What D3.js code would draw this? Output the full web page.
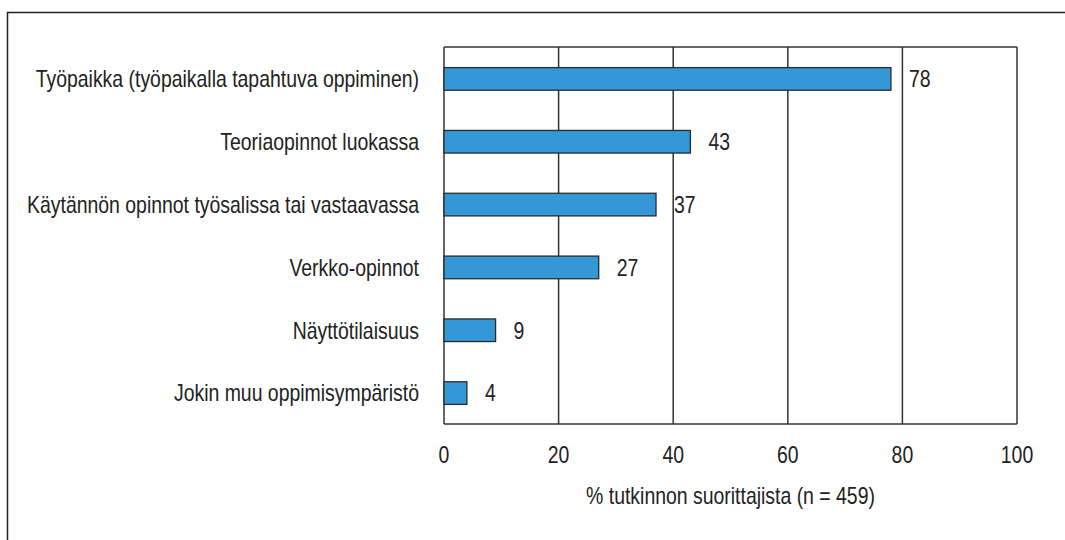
<!DOCTYPE html>
<meta charset="utf-8">
<style>
body { margin: 0; background: #fff; }
text {
  font-family: "Liberation Sans", Arial, sans-serif;
  font-size: 23px;
  fill: #222;
}
.grid line { stroke: #333; stroke-width: 1.5; }
.bar { fill: #3398d5; stroke: #2b2b2b; stroke-width: 1.3; }
</style>
<body>
<div id="chart"></div>
<script src="https://cdn.jsdelivr.net/npm/d3@7"></script>
<script>

var categories = [
  "Työpaikka (työpaikalla tapahtuva oppiminen)",
  "Teoriaopinnot luokassa",
  "Käytännön opinnot työsalissa tai vastaavassa",
  "Verkko-opinnot",
  "Näyttötilaisuus",
  "Jokin muu oppimisympäristö"
];
var values = [78, 43, 37, 27, 9, 4];
var xTicks = [0, 20, 40, 60, 80, 100];
var xTitle = "% tutkinnon suorittajista (n = 459)";

var width = 1065,
    height = 540;

var margin = {left: 444, right: 48, top: 47, bottom: 116};
var squeeze = 0.845; // narrow typeface look

var svg = d3.select("#chart").append("svg")
    .attr("width", width)
    .attr("height", height);

function place(sel, fx, fy) {
  sel.attr("transform", function(d, i) {
    return "translate(" + fx(d, i) + "," + fy(d, i) + ") scale(" + squeeze + ",1)";
  });
}

// outer frame (top + left only)
svg.append("path")
    .attr("d", "M7.5," + height + "V12.5H" + width)
    .attr("fill", "none")
    .attr("stroke", "#222")
    .attr("stroke-width", 1.5);

var x = d3.scaleLinear()
    .domain([0, 100])
    .range([margin.left, width - margin.right]);

var y = d3.scaleBand()
    .domain(categories)
    .range([margin.top, height - margin.bottom])
    .paddingInner(0.64)
    .paddingOuter(0.32);

var grid = svg.append("g").attr("class", "grid");

grid.selectAll("line.v")
    .data(xTicks)
    .enter().append("line")
    .attr("class", "v")
    .attr("x1", function(d) { return x(d); })
    .attr("x2", function(d) { return x(d); })
    .attr("y1", margin.top)
    .attr("y2", height - margin.bottom);

grid.append("line")
    .attr("x1", x(0)).attr("x2", x(100))
    .attr("y1", margin.top).attr("y2", margin.top);

grid.append("line")
    .attr("x1", x(0)).attr("x2", x(100))
    .attr("y1", height - margin.bottom).attr("y2", height - margin.bottom);

svg.selectAll("rect.bar")
    .data(values)
    .enter().append("rect")
    .attr("class", "bar")
    .attr("x", x(0))
    .attr("y", function(d, i) { return y(categories[i]) + 0.5; })
    .attr("width", function(d) { return x(d) - x(0); })
    .attr("height", y.bandwidth());

svg.selectAll("text.val")
    .data(values)
    .enter().append("text")
    .attr("class", "val")
    .attr("dy", "0.36em")
    .text(function(d) { return d; })
    .call(place,
      function(d) { return x(d) + 18; },
      function(d, i) { return y(categories[i]) + y.bandwidth() / 2 + 0.5; });

svg.selectAll("text.cat")
    .data(categories)
    .enter().append("text")
    .attr("class", "cat")
    .attr("dy", "0.36em")
    .attr("text-anchor", "end")
    .text(function(d) { return d; })
    .call(place,
      function() { return x(0) - 25; },
      function(d) { return y(d) + y.bandwidth() / 2 + 0.5; });

svg.selectAll("text.tick")
    .data(xTicks)
    .enter().append("text")
    .attr("class", "tick")
    .attr("text-anchor", "middle")
    .text(function(d) { return d; })
    .call(place, function(d) { return x(d); }, function() { return 463; });

svg.append("text")
    .datum(xTitle)
    .attr("text-anchor", "middle")
    .text(function(d) { return d; })
    .call(place, function() { return (x(0) + x(100)) / 2; }, function() { return 504; });

</script>
</body>
